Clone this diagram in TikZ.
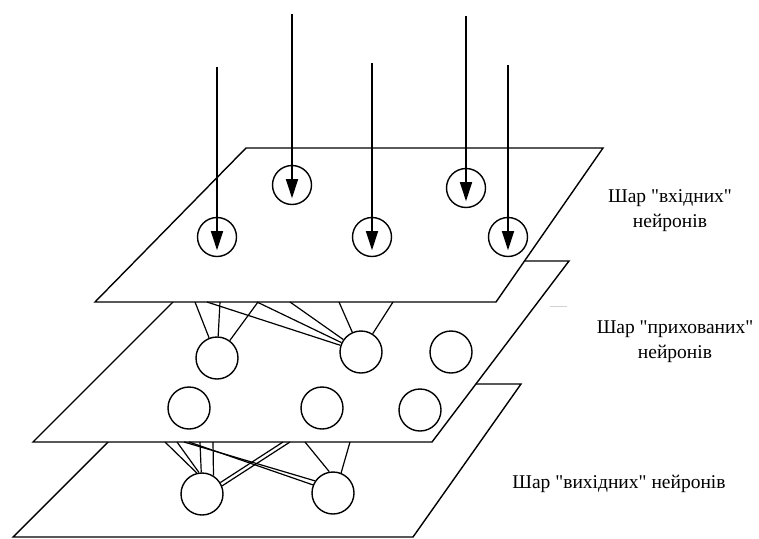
\documentclass[tikz,border=0pt]{standalone}
\usepackage{fontspec}
\setmainfont{Liberation Serif}[Ligatures=TeXOff]
\usetikzlibrary{arrows.meta}

\begin{document}
\begin{tikzpicture}[x=1pt,y=-1pt,
		layer/.style={draw,fill=white,line width=1.4pt},
		neuron/.style={circle,draw,fill=white,line width=1.4pt,minimum size=39pt,inner sep=0pt},
		hidden/.style={neuron,minimum size=42pt},
		link/.style={line width=1.2pt},
		signal/.style={line width=1.5pt,-{Triangle[length=19pt,width=12pt]},shorten >=7pt},
		caption/.style={font=\fontsize{19.5}{24.5}\selectfont,align=center,anchor=base}]
	\useasboundingbox (0,0) rectangle (759,538);
	% Layers, back to front
		\draw[layer] (166,384) -- (521,384) -- (413,537) -- (13,537) -- cycle;
		\draw[layer] (214,261) -- (569,261) -- (432,442) -- (33,442) -- cycle;
		\draw[layer] (246,148) -- (603,148) -- (496,302) -- (95,302) -- cycle;
		\draw[gray!35,line width=1pt] (550,306) -- (567,306);
	% Input neurons
		\node[neuron] (i1) at (217,237) {};
		\node[neuron] (i2) at (292,185) {};
		\node[neuron] (i3) at (372,237) {};
		\node[neuron] (i4) at (466,188) {};
		\node[neuron] (i5) at (508,237) {};
	% Hidden neurons
		\node[hidden] (h1) at (217,358) {};
		\node[hidden] (h2) at (361,352) {};
		\node[hidden] (h3) at (451,352) {};
		\node[hidden] (h4) at (189,408) {};
		\node[hidden] (h5) at (322,408) {};
		\node[hidden] (h6) at (420,410) {};
	% Output neurons
		\node[hidden] (o1) at (202,494) {};
		\node[hidden] (o2) at (333,493) {};
	% Incoming signals
		\foreach \n/\y in {1/67,2/14,3/63,4/16,5/65}{
			\coordinate (s\n) at (i\n |- 0,\y);
			\draw[signal] (s\n) -- (i\n.south);
		}
	% Links coming out under the input layer
		\foreach \x/\t in {195/h1,220/h1,258/h1,207/h2,257/h2,290/h2,339/h2,393/h2}{
			\coordinate (u\x) at (\x,302);
			\draw[link] (u\x) -- (\t);
		}
	% Links coming out under the hidden layer
		\foreach \x/\t in {165/o1.104,177/o1.98,200/o1.92,213/o1.58,283/o1.32,290/o1.22,
				184/o2.146,189/o2.158,305/o2.100,350/o2.68}{
			\coordinate (d\x) at (\x,442);
			\draw[link] (d\x) -- (\t);
		}
	% Captions
		\node[caption] (cin) at (670,227) {Шар "вхідних"\\нейронів};
		\node[caption] (chid) at (675,358) {Шар "прихованих"\\нейронів};
		\node[caption] (cout) at (619,488) {Шар "вихідних" нейронів};
\end{tikzpicture}
\end{document}
